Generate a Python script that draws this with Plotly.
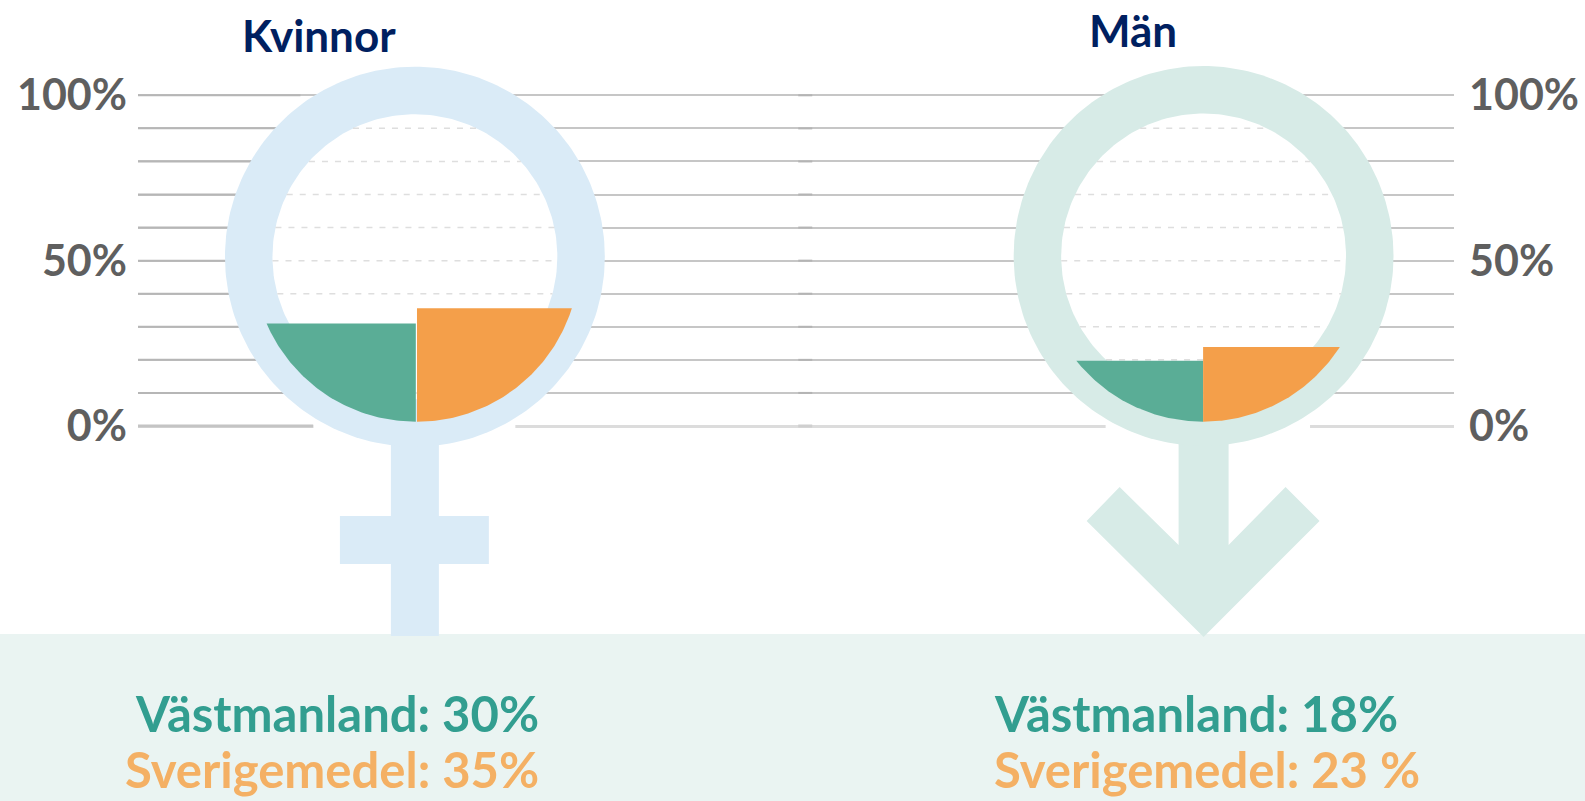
import numpy as np
import plotly.graph_objects as go

# ---- data ----
groups = ["Kvinnor", "Män"]
vastmanland_labels = ["Västmanland: 30%", "Västmanland: 18%"]
sverige_labels = ["Sverigemedel: 35%", "Sverigemedel: 23 %"]
vastmanland_level = [31.0, 19.7]   # fill top as read on the axis (%)
sverige_level = [35.6, 23.9]
grid_values = list(range(0, 101, 10))
tick_labels = ["0%", "", "", "", "", "50%", "", "", "", "", "100%"]

W, H = 1585, 801
PLOT_L, PLOT_R = 137.5, 1454.0
PX_ZERO, PX_PER_PCT = 426.0, 3.307


def py(p):
    return (PX_ZERO - np.asarray(p, dtype=float)) / PX_PER_PCT


Y_RANGE = [float(py(H)), float(py(0))]
GREEN, ORANGE = "#5aad96", "#f49f4a"
RING_F, RING_M = "#daebf7", "#d7ebe7"
PANEL = "#eaf4f2"
GRID, GRID0, DASH = "#c6c6c6", "#dcdcdc", "#dedede"
GRID_DARK = "#b6b6b6"

fig = go.Figure()


def hline(x0, x1, v, color, width, ya="y", dash=None):
    fig.add_trace(go.Scatter(x=[x0, x1], y=[v, v], yaxis=ya, mode="lines",
                             line=dict(color=color, width=width, dash=dash),
                             hoverinfo="skip", showlegend=False))


def poly(xs, ys, color, ya):
    fig.add_trace(go.Scatter(x=list(xs), y=list(py(np.array(ys))), yaxis=ya, mode="lines",
                             fill="toself", fillcolor=color, line=dict(width=0),
                             hoverinfo="skip", showlegend=False))


def circle(cx, cy, r, color, ya):
    t = np.linspace(0, 2 * np.pi, 241)
    poly(cx + r * np.cos(t), cy + r * np.sin(t), color, ya)


def segment(cx, side, level, color, ya, cy=259.2, r=162.5):
    top = PX_ZERO - level * PX_PER_PCT
    half = np.arccos(np.clip((top - cy) / r, -1, 1))
    t = np.linspace(0, half, 80)
    xs = cx + side * r * np.sin(t)
    ys = cy + r * np.cos(t)
    poly(np.r_[cx, xs, cx], np.r_[cy + r, ys, top], color, ya)


def gender(cx, cy, ring, ya, i, sx, seam):
    # stem and sign
    if i == 0:
        poly([cx - 24, cx + 24, cx + 24, cx - 24], [440, 440, 636, 636], ring, ya)
        poly([cx - 75, cx + 74, cx + 74, cx - 75], [516, 516, 564, 564], ring, ya)
    else:
        poly([cx - 25, cx + 25, cx + 25, cx + 82, cx + 116, cx, cx - 117, cx - 84, cx - 25],
             [440, 440, 545, 487, 521, 637, 521, 487, 545], ring, ya)
    circle(cx, cy, 190, ring, ya)
    circle(cx, cy, 142.5, "#ffffff", ya)
    # dashed grid inside the ring
    for v in grid_values[1:-1]:
        yp = PX_ZERO - v * PX_PER_PCT
        d = abs(yp - cy)
        if d < 142:
            w = np.sqrt(142.5 ** 2 - d ** 2)
            hline(cx - w, cx + w, v, DASH, 1.5, ya, "6px,7px")
    segment(sx - seam, -1, vastmanland_level[i], GREEN, ya)
    segment(sx + seam, 1, sverige_level[i], ORANGE, ya)


# darker left run and centre joins of the grid
for v in grid_values[1:]:
    hline(PLOT_L, 300, v, GRID_DARK, 2)
    hline(798, 812, v, "#b4b4b4", 2)
hline(798, 812, 0, "#cfcfcf", 3)
hline(PLOT_L, 313, 0, "#c4c4c4", 3)

# gap in the 0% line around each ring
hline(313, 515, 0, "#ffffff", 4)
hline(1105.5, 1310, 0, "#ffffff", 4, "y2")

gender(414.5, 256.7, RING_F, "y", 0, 416, 0.6)
gender(1203.5, 256.0, RING_M, "y2", 1, 1203, 0.0)

axis_font = dict(family="Lato", size=43, color="#5f5f5f", weight=700)
common_y = dict(range=Y_RANGE, tickvals=grid_values, ticktext=tick_labels, tickfont=axis_font,
                showgrid=True, gridcolor=GRID, gridwidth=2, zeroline=True, zerolinecolor=GRID0,
                zerolinewidth=3, showline=False, ticks="", fixedrange=True)

fig.update_layout(
    width=W, height=H, autosize=False,
    margin=dict(l=PLOT_L, r=W - PLOT_R, t=0, b=0, pad=0, autoexpand=False),
    paper_bgcolor="#ffffff", plot_bgcolor="#ffffff", showlegend=False,
    xaxis=dict(range=[PLOT_L, PLOT_R], visible=False, fixedrange=True),
    yaxis=dict(side="left", ticklabelstandoff=10, **common_y),
    yaxis2=dict(side="right", overlaying="y", ticklabelstandoff=14, **common_y),
    shapes=[dict(type="rect", xref="paper", x0=-0.2, x1=1.2, yref="y",
                 y0=float(py(634)), y1=float(py(H + 5)), fillcolor=PANEL,
                 line=dict(width=0), layer="below")],
)


def label(x, y, text, color, size, anchor):
    fig.add_annotation(x=x, y=float(py(y)), xref="x", yref="y", text=text, showarrow=False,
                       xanchor=anchor, yanchor="middle",
                       font=dict(family="Lato", size=size, color=color, weight=700))


TITLE = "#002060"
label(318.5, 35, groups[0], TITLE, 44, "center")
label(1133, 30, groups[1], TITLE, 44, "center")
TEAL, SAND = "#329e90", "#f4b064"
label(541, 713, vastmanland_labels[0], TEAL, 49, "right")
label(541, 769, sverige_labels[0], SAND, 49, "right")
label(992, 713, vastmanland_labels[1], TEAL, 49, "left")
label(992, 769, sverige_labels[1], SAND, 49, "left")

fig.write_html("out.html", config=dict(displayModeBar=False),
               post_script="document.body.style.margin='0';document.documentElement.style.overflow='hidden';")
